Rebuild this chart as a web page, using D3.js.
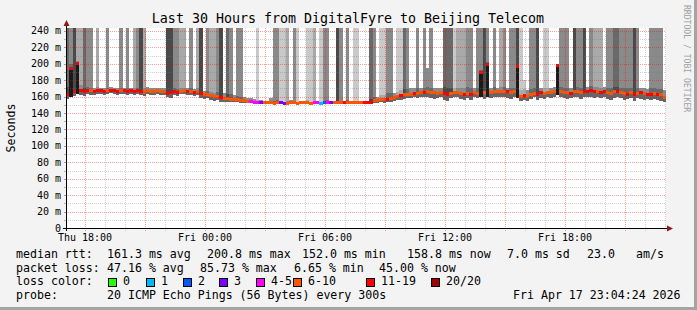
<!DOCTYPE html>
<html>
<head>
<meta charset="utf-8">
<script src="https://cdn.jsdelivr.net/npm/d3@7"></script>
<style>
html, body { margin: 0; padding: 0; background: #f3f3f3; }
svg { display: block; }
text { font-family: "DejaVu Sans Mono", monospace; }
</style>
</head>
<body>
<svg id="chart" width="697" height="310"></svg>
<script>
// time window (UTC so the labels match the picture whatever the sandbox zone)
const startTime = Date.UTC(2026, 3, 16, 17, 4, 24)
const endTime = Date.UTC(2026, 3, 17, 23, 4, 24)
const slotMinutes = 10

// median rtt per 10 min slot (ms)
const med = [163,194,166,200.8,167,166,168,167,166,167,
  167,166,167,168,167,166,167,167,166,167,
  166,167,166,165,167,166,166,167,166,166,
  164,165,166,165,166,167,166,166,165,166,
  164,163,162,161,160,160,159,158,158,157,
  156,156,155,155,154,154,153,153,152.5,152.5,
  152.5,152.5,152,152.5,152.5,152,152,152.5,152.5,152,
  152.5,152.5,152.5,152,152.5,152.5,152,152.5,152.5,152.5,
  152.5,152.5,152.5,152.5,152.5,152.5,152.5,152.5,152.5,152.5,
  152.5,153,155,155.5,156,156,157,158,159,160,
  161,162,163,163,164,164,165,165,166,165,
  165,164,165,164,163,164,165,165,164,162,
  164,163,165,164,190,165,199.5,165,166,166,
  166,166,166,165,166,197,160,161,160,162,
  164,163,165,164,165,165,166,198,166,165,
  165,164,166,166,165,166,166,167,166,166,
  165,166,165,164,166,166,165,164,163,165,
  162,164,165,164,163,163,164,163,162,158.8]

// lost pings out of 20
const loss = [12,13,12,14,12,11,13,8,12,12,
  13,12,9,12,12,13,8,12,12,13,
  12,12,13,9,8,8,9,8,9,8,
  12,13,12,12,9,8,12,9,12,8,
  12,9,8,8,9,8,12,8,9,8,
  9,8,8,7,6,5,5,4,3,8,
  8,9,8,8,3,3,7,8,8,9,
  8,8,8,7,5,5,1,2,4,3,
  8,9,8,12,8,9,8,9,9,12,
  12,12,8,8,9,8,12,8,9,8,
  12,9,8,8,12,9,8,12,8,8,
  9,8,8,12,12,8,8,9,8,12,
  8,12,9,8,12,8,12,8,9,8,
  8,9,12,8,9,12,8,12,8,9,
  8,12,12,8,9,8,8,12,8,9,
  8,12,8,9,8,12,12,12,12,8,
  12,12,8,9,8,12,8,9,12,8,
  12,8,12,9,12,12,8,12,9,9]

// dense smoke band: lowest ping and upper edge (ms)
const lo = [157,160,161,163,162,161,163,162,162,163,
  163,162,163,164,163,162,163,163,162,163,
  162,163,162,161,163,162,162,163,162,162,
  160,158,162,161,163,163,162,162,161,162,
  158,157,158,156,155,156,154,154,153,153,
  153,153,152,152,152.5,152,152,152,152,152,
  152,152,151.5,152,152,151.5,151.5,152,152,151.5,
  152,152,152,151.5,152,152,151.5,152,152,152,
  152,152,152,152,152,152,152,152,152,152,
  152,151,152,152,153,152,153,154,155,156,
  156,157,158,158,159,158,160,159,160,158,
  157,158,159,156,155,158,159,160,157,156,
  158,156,159,158,160,157,160,158,159,160,
  160,159,158,157,160,158,155,156,155,157,
  159,156,158,157,159,158,160,162,160,158,
  157,158,160,159,157,160,159,160,158,160,
  158,160,157,156,158,160,158,156,157,158,
  155,158,157,156,157,156,157,156,155,154]

const hi = [172,200,172,203,174,171,172,171,170,172,
  170,171,170,172,171,170,170,171,171,170,
  171,170,171,170,172,170,170,171,170,170,
  168,169,170,169,170,171,170,171,169,170,
  168,167,167,166,165,166,164,165,163,163,
  162,161,160,160,158,158,157,156,156,155,
  155,158,155,156,155,154,155,156,154,154,
  155,154,156,154,155,154,154,155,156,154,
  155,156,155,154,156,155,154,155,155,154,
  155,157,159,160,162,162,164,164,165,166,
  168,169,169,170,170,171,171,170,172,171,
  171,170,171,172,171,170,171,171,170,170,
  172,171,171,170,192,171,202,171,172,171,
  172,172,171,170,171,200,168,169,168,169,
  170,169,171,170,171,171,172,200,172,171,
  171,170,172,172,171,172,172,173,172,172,
  171,172,171,170,172,172,171,170,170,171,
  169,170,171,170,169,170,170,169,169,168]

// pings in the slow tail (0 = none) and how far it reaches (ms, 400 = off the scale)
const tailPings = [4,3,5,2,2,4,3,3,0,2,
  0,0,3,0,0,0,3,0,3,0,
  2,3,5,2,0,0,0,0,0,0,
  5,5,3,3,2,2,0,3,0,2,
  5,0,3,2,2,3,5,0,4,3,
  0,3,3,0,0,0,0,1,0,0,
  0,0,3,3,1,1,2,0,3,1,
  0,0,1,1,2,0,1,3,3,0,
  0,5,3,0,3,0,1,1,0,0,
  0,4,3,0,1,1,3,3,0,1,
  1,4,3,0,0,3,0,3,3,3,
  0,0,0,4,4,4,1,2,2,2,
  3,3,0,3,3,5,3,0,3,0,
  2,3,0,3,3,5,1,1,0,3,
  3,5,0,1,1,0,0,0,3,3,
  3,0,5,3,3,5,0,3,2,2,
  2,0,3,3,4,4,3,3,3,3,
  5,3,0,0,0,3,3,3,3,0]

const tailTop = [400,400,400,400,400,400,400,400,0,400,
  0,0,400,0,0,0,400,0,400,0,
  400,400,400,400,0,0,0,0,0,0,
  400,400,400,400,400,400,0,400,0,400,
  400,0,400,400,400,400,400,0,400,400,
  0,400,400,0,0,0,0,400,0,0,
  0,0,400,400,400,400,400,0,400,400,
  0,0,400,400,400,0,400,400,400,0,
  0,400,400,0,400,0,400,400,0,0,
  0,400,400,0,400,400,400,400,0,400,
  400,400,400,0,0,400,0,400,195,400,
  0,0,0,400,400,400,400,400,400,400,
  400,400,0,400,400,400,400,0,400,0,
  400,400,0,400,400,400,400,180,0,400,
  400,400,0,400,400,0,0,0,400,400,
  400,0,400,400,400,400,0,400,400,400,
  400,0,400,400,400,400,400,400,400,400,
  400,400,0,0,0,400,400,400,400,0]

const lossLabels = ['0', '1', '2', '3', '4-5', '6-10', '11-19', '20/20']
const lossColors = ['#26ff00', '#00b8ff', '#0059ff', '#7e00ff', '#ff00ff', '#ff5500', '#ff0000', '#a10000']
const yTicks = [0, 20, 40, 60, 80, 100, 120, 140, 160, 180, 200, 220, 240]

const rttStats = ['161.3 ms avg', '200.8 ms max', '152.0 ms min', '158.8 ms now', '7.0 ms sd', '23.0', 'am/s']
const lossStats = ['47.16 % avg', '85.73 % max', '6.65 % min', '45.00 % now']

const svg = d3.select('#chart')
const plot = {left: 66, right: 666, top: 28, bottom: 228}
const yMax = 243.6

const x = d3.scaleUtc().domain([startTime, endTime]).range([plot.left, plot.right])
const y = d3.scaleLinear().domain([0, yMax]).range([plot.bottom, plot.top])
const lossColor = d3.scaleThreshold().domain([1, 2, 3, 4, 6, 11, 20]).range(lossColors)
const tailColor = d3.scaleOrdinal().domain([1, 2, 3, 4, 5])
  .range(['#c9c9c9', '#a9a9a9', '#8a8a8a', '#696969', '#494949'])

const slots = med.map((m, i) => ({
  t0: new Date(startTime + i * slotMinutes * 60000),
  t1: new Date(startTime + (i + 1) * slotMinutes * 60000),
  med: m, loss: loss[i], lo: lo[i], hi: hi[i],
  pings: tailPings[i], top: tailTop[i]
}))

// background + plot area
svg.append('rect').attr('width', 697).attr('height', 310).attr('fill', '#f3f3f3')
svg.append('rect').attr('x', 694).attr('y', 0).attr('width', 3).attr('height', 310).attr('fill', '#a4a4a4')
svg.append('rect').attr('x', 0).attr('y', 307).attr('width', 697).attr('height', 3).attr('fill', '#a4a4a4')
svg.append('rect')
  .attr('x', plot.left).attr('y', plot.top)
  .attr('width', plot.right - plot.left).attr('height', plot.bottom - plot.top)
  .attr('fill', '#ffffff')

svg.append('clipPath').attr('id', 'clip').append('rect')
  .attr('x', plot.left).attr('y', plot.top)
  .attr('width', plot.right - plot.left).attr('height', plot.bottom - plot.top)

const g = svg.append('g').attr('clip-path', 'url(#clip)').attr('shape-rendering', 'crispEdges')

// slow tail stripes
g.selectAll('rect.tail')
  .data(slots.filter(d => d.pings > 0))
  .enter().append('rect')
  .attr('class', 'tail')
  .attr('x', d => x(d.t0))
  .attr('width', d => x(d.t1) - x(d.t0))
  .attr('y', d => y(Math.min(d.top, yMax)))
  .attr('height', d => y(d.med) - y(Math.min(d.top, yMax)))
  .attr('fill', d => tailColor(d.pings))

// dense smoke below median
g.selectAll('rect.low')
  .data(slots)
  .enter().append('rect')
  .attr('class', 'low')
  .attr('x', d => x(d.t0))
  .attr('width', d => x(d.t1) - x(d.t0))
  .attr('y', d => y(d.med))
  .attr('height', d => Math.max(0, y(d.lo) - y(d.med)))
  .attr('fill', d => (d.med - d.lo > 25 ? '#1a1a1a' : '#666666'))

// dense smoke above median
g.selectAll('rect.up')
  .data(slots)
  .enter().append('rect')
  .attr('class', 'up')
  .attr('x', d => x(d.t0))
  .attr('width', d => x(d.t1) - x(d.t0))
  .attr('y', d => y(d.hi))
  .attr('height', d => Math.max(0, y(d.med) - y(d.hi)))
  .attr('fill', d => (d.pings > 0 ? tailColor(Math.min(5, d.pings + 1)) : '#8c8c8c'))

// median coloured by loss
g.selectAll('rect.med')
  .data(slots)
  .enter().append('rect')
  .attr('class', 'med')
  .attr('x', d => x(d.t0))
  .attr('width', d => x(d.t1) - x(d.t0))
  .attr('y', d => y(d.med) - 1.5)
  .attr('height', 3)
  .attr('fill', d => lossColor(d.loss))

// grid on top of the data
const grid = svg.append('g')
const hours = d3.utcHour.range(new Date(startTime), new Date(endTime))
const minorY = d3.range(10, 250, 10)

grid.selectAll('line.hy')
  .data(minorY)
  .enter().append('line')
  .attr('x1', plot.left).attr('x2', plot.right)
  .attr('y1', d => Math.round(y(d)) + 0.5).attr('y2', d => Math.round(y(d)) + 0.5)
  .attr('stroke', d => (d % 20 === 0 ? 'rgba(255,0,0,0.38)' : 'rgba(120,120,120,0.35)'))
  .attr('stroke-dasharray', '1,1')

grid.selectAll('line.vx')
  .data(hours)
  .enter().append('line')
  .attr('x1', d => Math.round(x(d)) + 0.5).attr('x2', d => Math.round(x(d)) + 0.5)
  .attr('y1', plot.top).attr('y2', plot.bottom + 3)
  .attr('stroke', d => (d.getUTCHours() % 3 === 0 ? 'rgba(255,0,0,0.38)' : 'rgba(120,120,120,0.35)'))
  .attr('stroke-dasharray', '1,1')

grid.selectAll('line.ty')
  .data(minorY)
  .enter().append('line')
  .attr('x1', plot.left - 2).attr('x2', plot.left)
  .attr('y1', d => Math.round(y(d)) + 0.5).attr('y2', d => Math.round(y(d)) + 0.5)
  .attr('stroke', d => (d % 20 === 0 ? 'rgba(255,0,0,0.5)' : 'rgba(120,120,120,0.5)'))

// axes
svg.append('line').attr('x1', plot.left - 3).attr('x2', plot.right + 2)
  .attr('y1', plot.bottom + 0.5).attr('y2', plot.bottom + 0.5).attr('stroke', '#000')
svg.append('line').attr('x1', plot.left + 0.5).attr('x2', plot.left + 0.5)
  .attr('y1', plot.bottom + 3).attr('y2', 24).attr('stroke', '#000')
svg.append('path').attr('d', 'M667,225.5L673,228.5L667,231.5Z').attr('fill', '#8b1a1a')
svg.append('path').attr('d', 'M63.5,26L66.5,20L69.5,26Z').attr('fill', '#8b1a1a')

svg.selectAll('text.ylab')
  .data(yTicks)
  .enter().append('text')
  .attr('x', 61)
  .attr('y', d => y(d) + 3.5)
  .attr('text-anchor', 'end')
  .attr('font-size', '10px')
  .text(d => (d === 0 ? '0' : d + ' m'))

const fmt = d3.utcFormat('%a %H:%M')
svg.selectAll('text.xlab')
  .data(hours.filter(d => d.getUTCHours() % 6 === 0))
  .enter().append('text')
  .attr('x', d => x(d) + 0.5)
  .attr('y', 241)
  .attr('text-anchor', 'middle')
  .attr('font-size', '10px')
  .text(d => fmt(d))

// titles
svg.append('text').attr('x', 348).attr('y', 23).attr('text-anchor', 'middle')
  .attr('font-size', '13.3px').text('Last 30 Hours from DigitalFyre to Beijing Telecom')
svg.append('text').attr('transform', 'translate(15,128) rotate(-90)')
  .attr('text-anchor', 'middle').attr('font-size', '11.6px').text('Seconds')
svg.append('text').attr('transform', 'translate(684,5) rotate(90)')
  .attr('font-size', '8.1px').attr('fill', '#a0a0a0').text('RRDTOOL / TOBI OETIKER')

// legend
const leg = svg.append('g').attr('font-size', '11.6px')
const rttX = [107, 207, 302, 407, 507, 587, 636]
const lossX = [107, 200, 294, 379]
leg.append('text').attr('x', 16).attr('y', 258).text('median rtt:')
rttStats.forEach((s, i) => leg.append('text').attr('x', rttX[i]).attr('y', 258).text(s))
leg.append('text').attr('x', 16).attr('y', 271.5).text('packet loss:')
lossStats.forEach((s, i) => leg.append('text').attr('x', lossX[i]).attr('y', 271.5).text(s))
leg.append('text').attr('x', 16).attr('y', 285).text('loss color:')

const boxX = [108, 146, 183, 219, 256, 293, 366, 431]
const keys = leg.selectAll('g.key')
  .data(lossLabels)
  .enter().append('g')
keys.append('rect')
  .attr('x', (d, i) => boxX[i] + 0.5).attr('y', 278.5)
  .attr('width', 8).attr('height', 8)
  .attr('fill', (d, i) => lossColors[i])
  .attr('stroke', '#000')
keys.append('text')
  .attr('x', (d, i) => boxX[i] + 15).attr('y', 285)
  .text(d => d)

leg.append('text').attr('x', 16).attr('y', 298.5).text('probe:')
leg.append('text').attr('x', 107).attr('y', 298.5).text('20 ICMP Echo Pings (56 Bytes) every 300s')
leg.append('text').attr('x', 513).attr('y', 298.5).text('Fri Apr 17 23:04:24 2026')
</script>
</body>
</html>
